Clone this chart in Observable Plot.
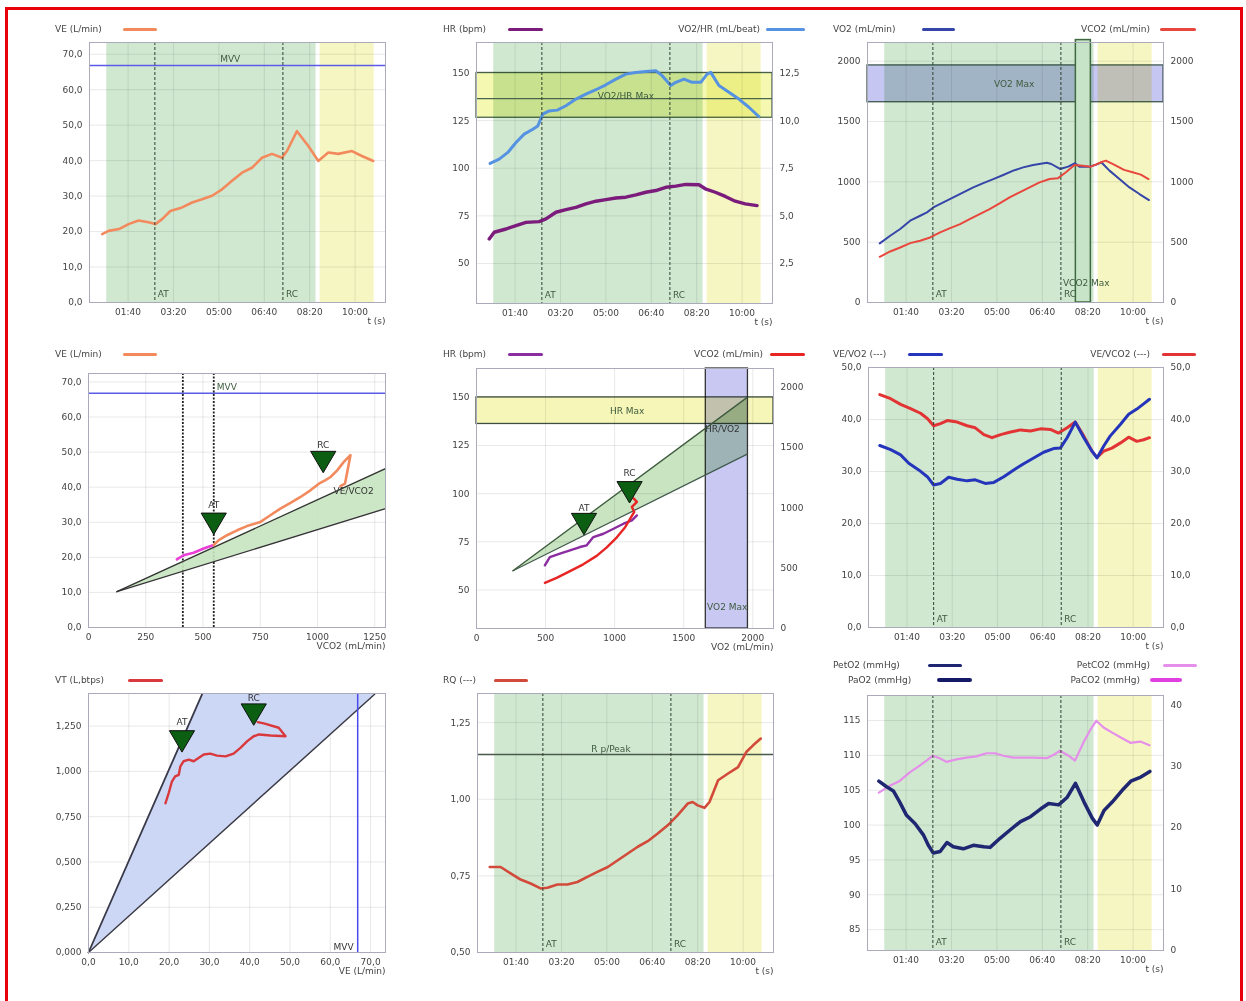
<!DOCTYPE html>
<html><head><meta charset="utf-8">
<script src="https://cdn.jsdelivr.net/npm/d3@7"></script>
<script src="https://cdn.jsdelivr.net/npm/@observablehq/plot@0.6"></script>
<style>
html,body{margin:0;padding:0;background:#fff;overflow:hidden;width:1246px;height:1001px}
#wrap{position:relative;width:1246px;height:1001px;font-family:"DejaVu Sans",sans-serif;overflow:hidden}
#border{position:absolute;left:5px;top:7px;width:1232px;height:1020px;border:3px solid #e8000b;}
.lg{position:absolute;font-size:9px;color:#444;line-height:10px;white-space:nowrap}
.ln{position:absolute;border-radius:2px}
</style></head><body><div id="wrap"><div id="border"></div></div>
<script>
// ---------- shared time axis ----------
const timeTicks = [100, 200, 300, 400, 500, 600];
const phaseExercise = [53, 514];
const phaseRecovery = [523, 642];
const tAT = 159, tRC = 441;

// ---------- panel 1 : VE vs time ----------
const tVE = [43,57,80,101,123,145,160,175,193,219,241,263,285,307,329,351,373,395,417,439,450,472,497,519,541,563,593,615,640];
const VE  = [19.3,20.2,20.7,22.1,23.1,22.6,22.1,23.5,25.8,26.8,28.2,29.1,30.1,31.9,34.3,36.6,38.0,40.8,41.9,40.8,42.7,48.3,44.1,39.9,42.3,41.9,42.7,41.3,39.9];
const MVV = 66.8;
const veTicks = [0,10,20,30,40,50,60,70];

// ---------- panel 2 : HR and VO2/HR vs time ----------
const tHR = [43,54,80,102,124,153,168,190,212,234,256,278,300,322,344,366,388,410,432,454,476,505,519,541,563,585,607,633];
const HR  = [62.9,66.4,68.1,69.9,71.6,72.0,73.4,76.9,78.3,79.5,81.3,82.7,83.5,84.4,84.8,86.0,87.4,88.3,90.0,90.6,91.5,91.3,89.2,87.4,85.2,82.7,81.3,80.4];
const tO2HR = [45,65,84,102,120,139,150,161,175,193,212,234,256,278,300,322,344,366,388,410,424,443,454,472,490,509,523,531,549,571,593,615,637];
const O2HR  = [7.75,7.98,8.33,8.85,9.29,9.55,9.72,10.34,10.51,10.55,10.78,11.13,11.39,11.62,11.88,12.18,12.44,12.53,12.58,12.62,12.36,11.84,12.01,12.18,12.01,12.01,12.44,12.53,11.84,11.49,11.13,10.70,10.21];
const o2hrMaxBand = [10.15, 11.15, 12.5];
const hrTicks = [50,75,100,125,150];
const o2hrTicks = [2.5,5,7.5,10,12.5];

// ---------- panel 3 : VO2 and VCO2 vs time ----------
const tVO2 = [42,65,87,109,131,146,160,182,204,226,248,270,292,314,336,358,380,410,420,439,457,472,482,504,519,530,548,570,592,614,635];
const VO2  = [490,553,609,678,719,747,788,830,871,913,954,990,1023,1057,1093,1120,1139,1159,1148,1107,1126,1154,1126,1126,1143,1162,1093,1023,954,899,849];
const tVCO2 = [42,65,87,109,131,153,175,197,219,240,262,284,306,328,350,372,394,416,434,452,471,489,507,529,540,558,580,599,617,634];
const VCO2  = [379,423,456,492,512,539,581,617,650,691,733,774,821,871,913,954,996,1023,1029,1079,1140,1134,1126,1162,1176,1143,1099,1079,1060,1023];
const vo2MaxBand = [1660, 1965];
const vo2MaxTime = [474, 507];
const flowTicks = [0,500,1000,1500,2000];

// ---------- panel 4 : VE vs VCO2 ----------
const p4VCO2pre = [386,415,459,503,525,547];
const p4VEpre   = [19.4,20.6,21.3,22.5,23.0,23.5];
const p4VCO2 = [547,569,605,649,692,751,794,838,882,926,969,1006,1035,1057,1086,1115,1144,1120,1100];
const p4VE   = [23.5,24.9,26.3,27.7,28.9,30.1,32.0,33.9,35.5,37.2,39.1,41.0,42.0,42.9,44.8,47.2,49.1,41.0,40.3];
const p4Thresholds = [412, 547];
const p4WedgeX = [124, 1297];
const p4WedgeLo = [10.2, 33.9];
const p4WedgeHi = [10.2, 45.3];
const p4Marks = [{name:"AT", x:547, y:30.1, ly:34.8}, {name:"RC", x:1025, y:47.7, ly:51.9}];
const vco2Ticks = [0,250,500,750,1000,1250];

// ---------- panel 5 : HR and VCO2 vs VO2 ----------
const p5VO2hr = [495,531,604,677,749,798,846,919,992,1064,1125,1161];
const p5HR    = [62.8,67.1,68.9,70.6,72.3,73.2,77.5,79.2,81.8,84.4,86.1,88.7];
const p5VO2co2 = [495,580,677,773,870,943,1016,1076,1113,1142,1125,1161,1137];
const p5VCO2   = [378,420,476,532,602,672,756,840,910,966,1008,1050,1078];
const hrMaxBand = [136.2, 150];
const p5WedgeX = [264, 1960];
const p5WedgeLo = [60, 120.5];
const p5WedgeHi = [60, 150];
const p5Marks = [{name:"AT", x:778, y:85.2, ly:92.6}, {name:"RC", x:1108, y:101.7, ly:110.6}];
const vo2Ticks = [0,500,1000,1500,2000];

// ---------- panel 6 : VE/VO2 and VE/VCO2 vs time ----------
const tVEO2 = [40,64,86,104,126,145,159,174,192,211,233,251,273,292,314,336,358,380,402,424,439,454,472,491,509,520,535,549,572,590,608,623,636];
const VEO2  = [35.0,34.2,33.2,31.6,30.3,29.0,27.4,27.7,28.9,28.5,28.2,28.4,27.7,27.9,29.0,30.3,31.5,32.6,33.7,34.4,34.5,36.5,39.5,36.5,33.9,32.6,34.9,36.8,39.1,41.0,42.0,43.0,43.9];
const tVECO2 = [40,64,86,108,130,145,159,174,189,211,233,251,270,288,307,329,351,373,395,417,435,454,472,491,509,520,535,553,572,590,608,623,636];
const VECO2  = [44.8,44.0,42.9,42.1,41.2,40.2,38.8,39.2,39.8,39.5,38.8,38.4,37.1,36.5,37.1,37.6,38.0,37.8,38.2,38.1,37.4,38.4,39.5,36.8,33.9,32.7,33.9,34.5,35.5,36.6,35.8,36.1,36.5];
const eqTicks = [0,10,20,30,40,50];

// ---------- panel 7 : VT vs VE ----------
const p7VE = [19.1,19.9,20.7,21.5,22.4,22.8,23.6,24.9,26.1,27.3,28.6,30.2,31.9,34.0,36.0,37.7,39.4,41.0,42.3,45.2,48.9,47.2,43.5,42.0];
const p7VT = [0.824,0.880,0.944,0.972,0.981,1.028,1.056,1.065,1.056,1.074,1.093,1.098,1.087,1.083,1.098,1.130,1.167,1.194,1.204,1.198,1.194,1.241,1.265,1.272];
const p7WedgeY = [0, 1.426];
const p7WedgeL = [0, 28.2];
const p7WedgeR = [0, 71.0];
const p7Marks = [{name:"AT", x:23.2, y:1.176, ly:1.27}, {name:"RC", x:41.0, y:1.324, ly:1.405}];
const p7XTicks = [0,10,20,30,40,50,60,70];
const vtTicks = [0,0.25,0.5,0.75,1,1.25];

// ---------- panel 8 : RQ vs time ----------
const tRQ = [42,66,88,110,132,154,169,191,213,235,257,279,302,324,346,368,390,412,434,456,478,489,500,515,526,545,567,589,607,622,639];
const RQ  = [0.779,0.779,0.758,0.738,0.725,0.709,0.711,0.722,0.722,0.730,0.747,0.763,0.779,0.801,0.823,0.845,0.863,0.888,0.915,0.948,0.986,0.991,0.980,0.972,0.991,1.062,1.084,1.105,1.154,1.176,1.198];
const rqPeak = 1.146;
const rqTicks = [0.5,0.75,1,1.25];

// ---------- panel 9 : PetO2 / PetCO2 vs time ----------
const tPO2 = [40,57,72,86,101,120,138,149,160,175,190,204,226,248,271,285,307,329,352,374,396,414,436,455,473,492,510,521,536,554,576,595,617,637];
const PETO2 = [106.3,105.5,104.9,103.3,101.4,100.2,98.6,97.1,96.0,96.2,97.5,96.9,96.6,97.1,96.9,96.8,98.1,99.3,100.5,101.2,102.3,103.1,102.9,104.0,106.0,103.3,101.0,100.0,102.1,103.3,105.0,106.3,106.9,107.7];
const tPCO2 = [40,64,86,108,130,145,159,174,189,211,233,255,277,296,314,336,358,380,410,424,439,458,472,491,505,519,535,553,572,594,616,636];
const PETCO2 = [25.7,26.8,27.6,29.0,30.1,30.9,31.7,31.3,30.7,31.1,31.4,31.6,32.1,32.1,31.7,31.4,31.4,31.4,31.3,31.8,32.5,31.7,30.9,33.9,35.8,37.4,36.3,35.5,34.7,33.8,34.0,33.4];
const o2Ticks = [85,90,95,100,105,110,115];
const co2Ticks = [0,10,20,30,40];

// ================= drawing =================
const fmtT = t => String(Math.floor(t/60)).padStart(2,"0") + ":" + String(t%60).padStart(2,"0");
const dec = n => d => d3.format("." + n + "f")(d).replace(".", ",");
const int = d => d3.format(".0f")(d);
const wrap = document.getElementById("wrap");
const ML = 46, MR = 46, MT = 16, MB = 34;
const FONT = "DejaVu Sans, sans-serif";
const GREEN = "#d0e8d0", YELLOW = "#f6f6c2", LABEL = "#3d5a3d";
const triDown = {draw(ctx, size){ const h = Math.sqrt(size/Math.PI)*1.4; ctx.moveTo(-h, -0.7*h); ctx.lineTo(h, -0.7*h); ctx.lineTo(0, h); ctx.closePath(); }};

function place(frame, x, y, marks){
  const svg = Plot.plot({
    width: frame.w + ML + MR, height: frame.h + MT + MB,
    marginLeft: ML, marginRight: MR, marginTop: MT, marginBottom: MB,
    x, y,
    style: {fontSize: "9px", fontFamily: FONT, color: "#444", background: "transparent", overflow: "visible"},
    marks
  });
  Object.assign(svg.style, {position: "absolute", left: (frame.l - ML) + "px", top: (frame.t - MT) + "px", maxWidth: "none"});
  wrap.appendChild(svg);
}
const axL = (ticks, f) => Plot.axisY({ticks, tickFormat: f, anchor: "left", tickSize: 0, tickPadding: 7, label: null});
const axR = (ticks, f) => Plot.axisY({ticks, tickFormat: f, anchor: "right", tickSize: 0, tickPadding: 7, label: null});
const axB = (ticks, f) => Plot.axisX({ticks, tickFormat: f, anchor: "bottom", tickSize: 0, tickPadding: 6, label: null});
const xlab = s => Plot.text([s], {text: d => d, frameAnchor: "bottom-right", dy: 21, textAnchor: "end", fill: "#444"});
const gridX = t => Plot.ruleX(t, {stroke: "#000", strokeOpacity: 0.09});
const gridY = t => Plot.ruleY(t, {stroke: "#000", strokeOpacity: 0.09});
const series = (xs, ys, stroke, w) => Plot.line(xs, {x: xs, y: ys, stroke, strokeWidth: w, strokeLinejoin: "round", strokeLinecap: "round"});
const label = (x, y, s, opts = {}) => Plot.text([s], {x: () => x, y: () => y, text: d => d, fill: LABEL, ...opts});

function timeBase(yTicks){
  return [
    Plot.rect([phaseExercise], {x1: d => d[0], x2: d => d[1], fill: GREEN}),
    Plot.rect([phaseRecovery], {x1: d => d[0], x2: d => d[1], fill: YELLOW}),
    gridX(timeTicks), gridY(yTicks)
  ];
}
function timeTop(){
  return [
    Plot.ruleX([tAT, tRC], {stroke: "#2f3f2f", strokeDasharray: "3,2", strokeWidth: 1}),
    Plot.text([["AT", tAT], ["RC", tRC]], {x: d => d[1], text: d => d[0], frameAnchor: "bottom", dx: 3, dy: -6, textAnchor: "start", fill: LABEL}),
    axB(timeTicks, fmtT), xlab("t (s)"),
    Plot.frame({stroke: "#aab"})
  ];
}
const tX = {domain: [15, 667]};

// ---- Panel 1
place({l: 89, t: 42, w: 296, h: 260}, tX, {domain: [0, 73.3]}, [
  ...timeBase(veTicks),
  Plot.ruleY([MVV], {stroke: "#5b5bea", strokeWidth: 1.5}),
  label(325, MVV + 1.8, "MVV"),
  series(tVE, VE, "#f28a5e", 2.6),
  ...timeTop(),
  axL(veTicks, dec(1))
]);

// ---- Panel 2
const p2r = v => 25 + 10 * v, p2i = h => (h - 25) / 10;
place({l: 476, t: 42, w: 296, h: 261}, tX, {domain: [29, 166]}, [
  ...timeBase(hrTicks),
  Plot.rect([o2hrMaxBand], {y1: d => p2r(d[0]), y2: d => p2r(d[2]), fill: "#f4f8b0", mixBlendMode: "multiply", stroke: "#4b654b", strokeWidth: 1.3}),
  Plot.ruleY([p2r(o2hrMaxBand[1])], {stroke: "#4b654b", strokeWidth: 1.3}),
  label(344, p2r(11.3), "VO2/HR Max"),
  series(tHR, HR, "#7b1b7b", 3.4),
  series(tO2HR, O2HR.map(p2r), "#5592e2", 3),
  ...timeTop(),
  axL(hrTicks, int),
  axR(o2hrTicks.map(p2r), d => dec(1)(p2i(d)))
]);

// ---- Panel 3
place({l: 867, t: 42, w: 296, h: 260}, tX, {domain: [0, 2155]}, [
  ...timeBase(flowTicks),
  Plot.rect([vo2MaxBand], {y1: d => d[0], y2: d => d[1], fill: "#c6c6f2", mixBlendMode: "multiply", stroke: "#3f5a4f", strokeWidth: 1.3}),
  label(338, 1810, "VO2 Max"),
  Plot.rect([vo2MaxTime], {x1: d => d[0], x2: d => d[1], y1: () => 0, y2: () => 2175, fill: "#c8e4c8", stroke: "#3f6a3f", strokeWidth: 1.5}),
  label(497, 160, "VCO2 Max"),
  series(tVO2, VO2, "#3545a8", 2),
  series(tVCO2, VCO2, "#e9473d", 2),
  ...timeTop(),
  axL(flowTicks, int),
  axR(flowTicks, int)
]);

// ---- Panel 4
place({l: 88, t: 373, w: 297, h: 254}, {domain: [0, 1297]}, {domain: [0, 72.4]}, [
  gridX(vco2Ticks), gridY(veTicks),
  Plot.ruleY([MVV], {stroke: "#5b5bea", strokeWidth: 1.5}),
  Plot.ruleX(p4Thresholds, {stroke: "#222", strokeWidth: 1.8, strokeDasharray: "2,1.5"}),
  label(560, MVV + 1.8, "MVV", {textAnchor: "start"}),
  Plot.areaY(p4WedgeX, {x: p4WedgeX, y1: p4WedgeLo, y2: p4WedgeHi, fill: "#c6e4c0", fillOpacity: 0.9}),
  series(p4WedgeX, p4WedgeLo, "#333", 1.3),
  series(p4WedgeX, p4WedgeHi, "#333", 1.3),
  label(1070, 38.8, "VE/VCO2", {textAnchor: "start", fill: "#333"}),
  series(p4VCO2pre, p4VEpre, "#e93fd6", 2.6),
  series(p4VCO2, p4VE, "#f28a5e", 2.6),
  Plot.dot(p4Marks, {x: "x", y: "y", symbol: triDown, r: 9, fill: "#0b5e12", stroke: "#111", strokeWidth: 1}),
  Plot.text(p4Marks, {x: "x", y: "ly", text: "name", fill: "#333"}),
  axB(vco2Ticks, int), xlab("VCO2 (mL/min)"),
  Plot.frame({stroke: "#aab"}),
  axL(veTicks, dec(1))
]);

// ---- Panel 5
const p5r = v => 30 + v * 135 / 2155, p5i = h => (h - 30) * 2155 / 135;
place({l: 476, t: 368, w: 297, h: 260}, {domain: [0, 2150]}, {domain: [30, 165]}, [
  gridX(vo2Ticks), gridY(hrTicks),
  Plot.rect([vo2MaxBand], {x1: d => d[0], x2: d => d[1], fill: "#c8c8f2", stroke: "#333", strokeWidth: 1.3}),
  Plot.rect([hrMaxBand], {y1: d => d[0], y2: d => d[1], fill: "#f6f6b8", mixBlendMode: "multiply", stroke: "#3f4f3f", strokeWidth: 1.3}),
  label(1091, 143, "HR Max"),
  label(1815, 41, "VO2 Max"),
  Plot.areaY(p5WedgeX, {x: p5WedgeX, y1: p5WedgeLo, y2: p5WedgeHi, fill: "#c8e4c0", mixBlendMode: "multiply"}),
  series(p5WedgeX, p5WedgeLo, "#3f5a4a", 1.3),
  series(p5WedgeX, p5WedgeHi, "#3f5a3f", 1.3),
  label(1780, 133.5, "HR/VO2", {fill: "#333"}),
  series(p5VO2hr, p5HR, "#8b2ca0", 2.4),
  series(p5VO2co2, p5VCO2.map(p5r), "#e82525", 2.4),
  Plot.dot(p5Marks, {x: "x", y: "y", symbol: triDown, r: 9, fill: "#0b5e12", stroke: "#111", strokeWidth: 1}),
  Plot.text(p5Marks, {x: "x", y: "ly", text: "name", fill: "#333"}),
  axB(vo2Ticks, int), xlab("VO2 (mL/min)"),
  Plot.frame({stroke: "#aab"}),
  axL(hrTicks, int),
  axR(flowTicks.map(p5r), d => int(p5i(d)))
]);

// ---- Panel 6
place({l: 868, t: 367, w: 295, h: 260}, tX, {domain: [0, 50]}, [
  ...timeBase(eqTicks),
  series(tVECO2, VECO2, "#e23434", 3),
  series(tVEO2, VEO2, "#2435bb", 3),
  ...timeTop(),
  axL(eqTicks, dec(1)),
  axR(eqTicks, dec(1))
]);

// ---- Panel 7
place({l: 88, t: 693, w: 297, h: 259}, {domain: [0, 73.7]}, {domain: [0, 1.43]}, [
  gridX(p7XTicks), gridY(vtTicks),
  Plot.areaX(p7WedgeY, {y: p7WedgeY, x1: p7WedgeL, x2: p7WedgeR, fill: "#c9d5f4", fillOpacity: 0.95}),
  Plot.line(p7WedgeY, {x: p7WedgeL, y: p7WedgeY, stroke: "#3a3a48", strokeWidth: 1.8}),
  Plot.line(p7WedgeY, {x: p7WedgeR, y: p7WedgeY, stroke: "#3a3a48", strokeWidth: 1.5}),
  Plot.ruleX([MVV], {stroke: "#4a4aee", strokeWidth: 1.5}),
  label(MVV - 1, 0.03, "MVV", {textAnchor: "end", fill: "#333"}),
  series(p7VE, p7VT, "#d9393c", 2.4),
  Plot.dot(p7Marks, {x: "x", y: "y", symbol: triDown, r: 9, fill: "#0b5e12", stroke: "#111", strokeWidth: 1}),
  Plot.text(p7Marks, {x: "x", y: "ly", text: "name", fill: "#333"}),
  axB(p7XTicks, dec(1)), xlab("VE (L/min)"),
  Plot.frame({stroke: "#aab"}),
  axL(vtTicks, dec(3))
]);

// ---- Panel 8
place({l: 477, t: 693, w: 296, h: 259}, tX, {domain: [0.5, 1.345]}, [
  ...timeBase(rqTicks),
  Plot.ruleY([rqPeak], {stroke: "#4a5a4a", strokeWidth: 1.5}),
  label(309, rqPeak + 0.018, "R p/Peak"),
  series(tRQ, RQ, "#d24a3a", 2.6),
  ...timeTop(),
  axL(rqTicks, dec(2))
]);

// ---- Panel 9
const p9r = v => 82 + v * 36.6 / 41.5, p9i = h => (h - 82) * 41.5 / 36.6;
place({l: 867, t: 695, w: 296, h: 255}, tX, {domain: [82, 118.6]}, [
  ...timeBase(o2Ticks),
  series(tPCO2, PETCO2.map(p9r), "#e58fea", 2.2),
  series(tPO2, PETO2, "#1f2672", 3.5),
  ...timeTop(),
  axL(o2Ticks, int),
  axR(co2Ticks.map(p9r), d => int(p9i(d)))
]);

// ================= legends (HTML, above each plot) =================
function legend(text, y, color, lx1, lx2, opts = {}){
  const d = document.createElement("div");
  d.className = "lg"; d.textContent = text;
  if (opts.right != null){ d.style.left = (opts.right - 300) + "px"; d.style.width = "300px"; d.style.textAlign = "right"; }
  else d.style.left = opts.left + "px";
  d.style.top = (y - 5) + "px";
  wrap.appendChild(d);
  const l = document.createElement("div");
  const th = opts.th || 3;
  l.className = "ln";
  Object.assign(l.style, {left: lx1 + "px", width: (lx2 - lx1) + "px", top: (y - th/2) + "px", height: th + "px", background: color});
  wrap.appendChild(l);
}
legend("VE (L/min)", 29, "#f28a5e", 123, 157, {left: 55});
legend("HR (bpm)", 29, "#7b1b7b", 508, 543, {left: 443});
legend("VO2/HR (mL/beat)", 29, "#5592e2", 766, 805, {right: 760});
legend("VO2 (mL/min)", 29, "#3545a8", 922, 955, {left: 833});
legend("VCO2 (mL/min)", 29, "#e9473d", 1160, 1196, {right: 1150});
legend("VE (L/min)", 354, "#f28a5e", 123, 157, {left: 55});
legend("HR (bpm)", 354, "#8b2ca0", 508, 543, {left: 443});
legend("VCO2 (mL/min)", 354, "#e82525", 770, 805, {right: 763});
legend("VE/VO2 (---)", 354, "#2435bb", 908, 943, {left: 833});
legend("VE/VCO2 (---)", 354, "#e23434", 1162, 1196, {right: 1150});
legend("VT (L,btps)", 680, "#d9393c", 128, 163, {left: 55});
legend("RQ (---)", 680, "#d24a3a", 494, 528, {left: 443});
legend("PetO2 (mmHg)", 665, "#1f2672", 928, 962, {left: 833});
legend("PaO2 (mmHg)", 680, "#141a66", 937, 972, {left: 848, th: 4});
legend("PetCO2 (mmHg)", 665, "#e58fea", 1163, 1197, {right: 1150});
legend("PaCO2 (mmHg)", 680, "#e040e0", 1150, 1182, {right: 1140, th: 4});
</script></body></html>
